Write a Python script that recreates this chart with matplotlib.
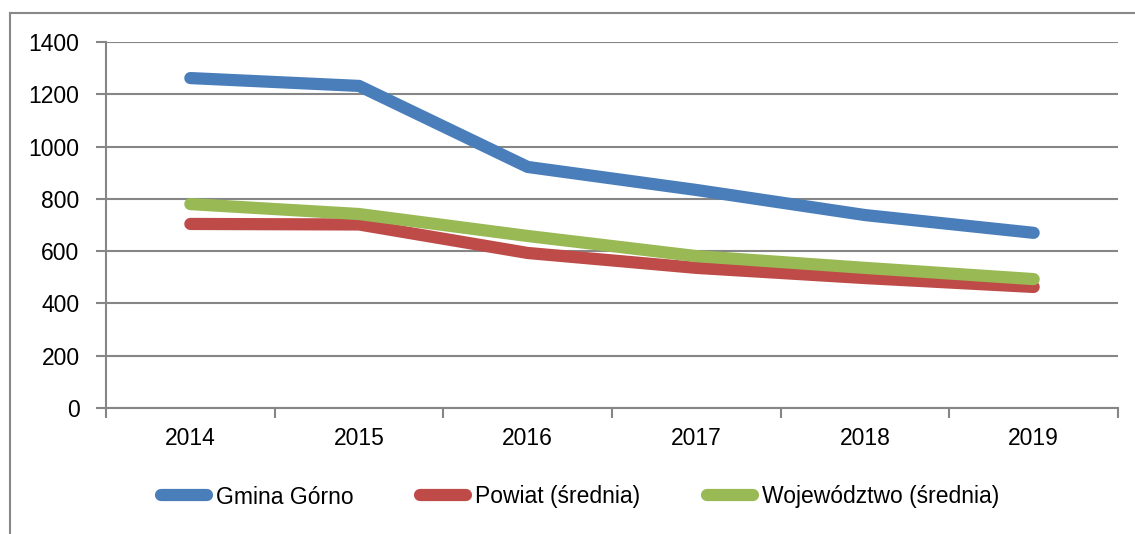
import matplotlib.pyplot as plt
from matplotlib.lines import Line2D

years = ["2014", "2015", "2016", "2017", "2018", "2019"]
gmina = [1262, 1232, 922, 834, 738, 670]
powiat = [704, 702, 593, 536, 497, 463]
wojewodztwo = [780, 742, 658, 581, 536, 493]

series = [
    ("Gmina Górno", gmina, "#4A7EBB"),
    ("Powiat (średnia)", powiat, "#BE4B48"),
    ("Województwo (średnia)", wojewodztwo, "#98B954"),
]

plt.rcParams['font.family'] = ['Liberation Sans', 'DejaVu Sans']
fs = 16.5

fig = plt.figure(figsize=(11.35, 5.34), dpi=100)
ax = fig.add_axes([106 / 1135, 1 - 408 / 534, (1118 - 106) / 1135, (408 - 42) / 534])

x = list(range(len(years)))
for label, vals, color in series:
    ax.plot(x, vals, color=color, lw=8.8, solid_capstyle='round',
            solid_joinstyle='round', label=label)

ax.set_xlim(-0.5, len(years) - 0.5)
ax.set_ylim(0, 1400)
ax.set_yticks(range(0, 1401, 200))
ax.set_xticks(x)
ax.set_xticklabels(years)
ax.set_xticks([i - 0.5 for i in range(len(years) + 1)], minor=True)
ax.tick_params(axis='x', which='major', length=0, pad=14, labelsize=fs)
ax.tick_params(axis='x', which='minor', length=7, width=1.5, color='#868686', direction='out')
ax.tick_params(axis='y', length=7, width=1.5, color='#868686', labelsize=fs, pad=12)
ax.grid(axis='y', color='#868686', lw=1.5)
ax.set_axisbelow(True)
for s in ['top', 'right']:
    ax.spines[s].set_visible(False)
for s in ['left', 'bottom']:
    ax.spines[s].set_color('#868686')
    ax.spines[s].set_linewidth(1.5)

handles = [Line2D([], [], color=c, lw=8.8, solid_capstyle='round') for _, _, c in series]
fig.legend(handles, [s[0] for s in series], loc='center', bbox_to_anchor=(0.511, 1 - 497 / 534),
           ncol=3, frameon=False, fontsize=fs, handlelength=2.0, handletextpad=0.4,
           columnspacing=2.9)

# outer chart border (left and top visible)
fig.add_artist(Line2D([10 / 1135, 10 / 1135], [-0.1, 1 - 13 / 534], transform=fig.transFigure,
                      color='#888888', lw=1.5))
fig.add_artist(Line2D([10 / 1135, 1.1], [1 - 13 / 534, 1 - 13 / 534], transform=fig.transFigure,
                      color='#888888', lw=1.5))

fig.savefig("out.png", dpi=100)
